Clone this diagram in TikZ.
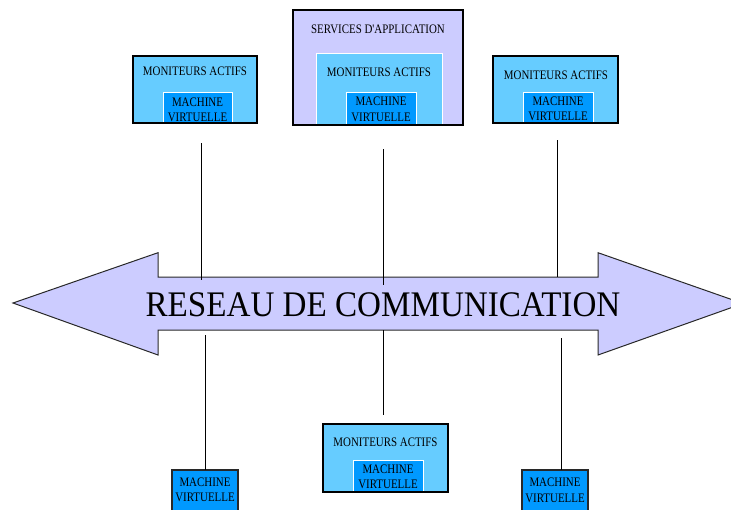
\documentclass[tikz,border=0pt]{standalone}
\usepackage{fontspec}
\setmainfont{Liberation Serif}
\newfontfamily\smallserif[FakeStretch=0.84]{Liberation Serif}
\newfontfamily\bigserif[FakeStretch=0.92]{Liberation Serif}
\definecolor{monblue}{RGB}{102,204,255}
\definecolor{vmblue}{RGB}{0,153,255}
\definecolor{lavender}{RGB}{204,204,255}
\definecolor{edgegray}{RGB}{40,40,40}
\tikzset{
  x=1pt, y=-1pt,
  box/.style={rectangle, inner sep=0pt, outer sep=0pt, anchor=north west},
  monbox/.style={box, fill=monblue, draw=black, line width=1.3pt},
  svcbox/.style={box, fill=lavender, draw=black, line width=1.3pt},
  innermon/.style={box, fill=monblue, draw=white, line width=1pt},
  innervm/.style={box, fill=vmblue, draw=white, line width=1pt},
  lonevm/.style={box, fill=vmblue, draw=edgegray, line width=1.2pt},
  lbl/.style={anchor=base, inner sep=0pt, font=\smallserif\fontsize{13}{15}\selectfont},
  biglbl/.style={anchor=base, inner sep=0pt, font=\bigserif\fontsize{36}{40}\selectfont},
  link/.style={draw=black, line width=1pt},
}
% a rectangle from (x1,y1) to (x2,y2) as a named node
\newcommand\boxat[6]{\node[#1, minimum width={(#5)-(#3)}, minimum height={(#6)-(#4)}] (#2) at (#3,#4) {};}
\begin{document}
\begin{tikzpicture}
\useasboundingbox (0,0) rectangle (731,509);
\clip (0,0) rectangle (731,509);

% network arrow
\draw[fill=lavender, draw=edgegray, line width=1pt]
  (13,303) -- (158,252.7) -- (158,277) -- (598,277) -- (598,252.7)
  -- (743,303.5) -- (598,355) -- (598,330) -- (158,330) -- (158,355) -- cycle;
\node[biglbl] (net) at (383,316.7) {RESEAU DE COMMUNICATION};

% top left: monitor with virtual machine
\boxat{monbox}{mon1}{133}{56}{257}{123}
\boxat{innervm}{vm1}{163}{92}{232}{123}
\node[lbl] (mon1t) at (195,75) {MONITEURS ACTIFS};
\node[lbl] (vm1a) at (197.5,106.5) {MACHINE};
\node[lbl] (vm1b) at (197.5,121.5) {VIRTUELLE};

% top middle: application services
\boxat{svcbox}{svc}{293}{10}{463}{125}
\boxat{innermon}{mon2}{316}{53}{442}{125}
\boxat{innervm}{vm2}{346}{92}{416}{125}
\node[lbl] (svct) at (378,33) {SERVICES D'APPLICATION};
\node[lbl] (mon2t) at (379,76.5) {MONITEURS ACTIFS};
\node[lbl] (vm2a) at (381,105.5) {MACHINE};
\node[lbl] (vm2b) at (381,121) {VIRTUELLE};
\draw[black, line width=1.3pt] (svc.north west) rectangle (svc.south east);

% top right
\boxat{monbox}{mon3}{493}{56}{618}{123}
\boxat{innervm}{vm3}{523}{92}{593}{123}
\node[lbl] (mon3t) at (556,79) {MONITEURS ACTIFS};
\node[lbl] (vm3a) at (558,105) {MACHINE};
\node[lbl] (vm3b) at (558,120) {VIRTUELLE};
\draw[black, line width=1.3pt] (mon1.north west) rectangle (mon1.south east);
\draw[black, line width=1.3pt] (mon3.north west) rectangle (mon3.south east);

% bottom middle
\boxat{monbox}{mon4}{323}{424}{448}{492}
\boxat{innervm}{vm4}{353}{460}{423}{492}
\node[lbl] (mon4t) at (385.5,446.5) {MONITEURS ACTIFS};
\node[lbl] (vm4a) at (388,473.5) {MACHINE};
\node[lbl] (vm4b) at (388,488.5) {VIRTUELLE};
\draw[black, line width=1.3pt] (mon4.north west) rectangle (mon4.south east);

% bottom left and right: lone virtual machines
\boxat{lonevm}{vm5}{172}{470}{238}{516}
\node[lbl] (vm5a) at (205,486) {MACHINE};
\node[lbl] (vm5b) at (205,501.5) {VIRTUELLE};
\boxat{lonevm}{vm6}{522}{470}{588}{516}
\node[lbl] (vm6a) at (555,486.5) {MACHINE};
\node[lbl] (vm6b) at (555,502.5) {VIRTUELLE};

% links to the network
\coordinate (l1a) at (201,143);  \coordinate (l1b) at (201,280);
\coordinate (l2a) at (383,149);  \coordinate (l2b) at (383,285);
\coordinate (l3a) at (557,140);  \coordinate (l3b) at (557,277);
\coordinate (l4a) at (205,335);  \coordinate (l4b) at (205,470);
\coordinate (l5a) at (383,330);  \coordinate (l5b) at (383,415);
\coordinate (l6a) at (561,338);  \coordinate (l6b) at (561,470);
\draw[link] (l1a) -- (l1b);
\draw[link] (l2a) -- (l2b);
\draw[link] (l3a) -- (l3b);
\draw[link] (l4a) -- (l4b);
\draw[link] (l5a) -- (l5b);
\draw[link] (l6a) -- (l6b);
\end{tikzpicture}
\end{document}
